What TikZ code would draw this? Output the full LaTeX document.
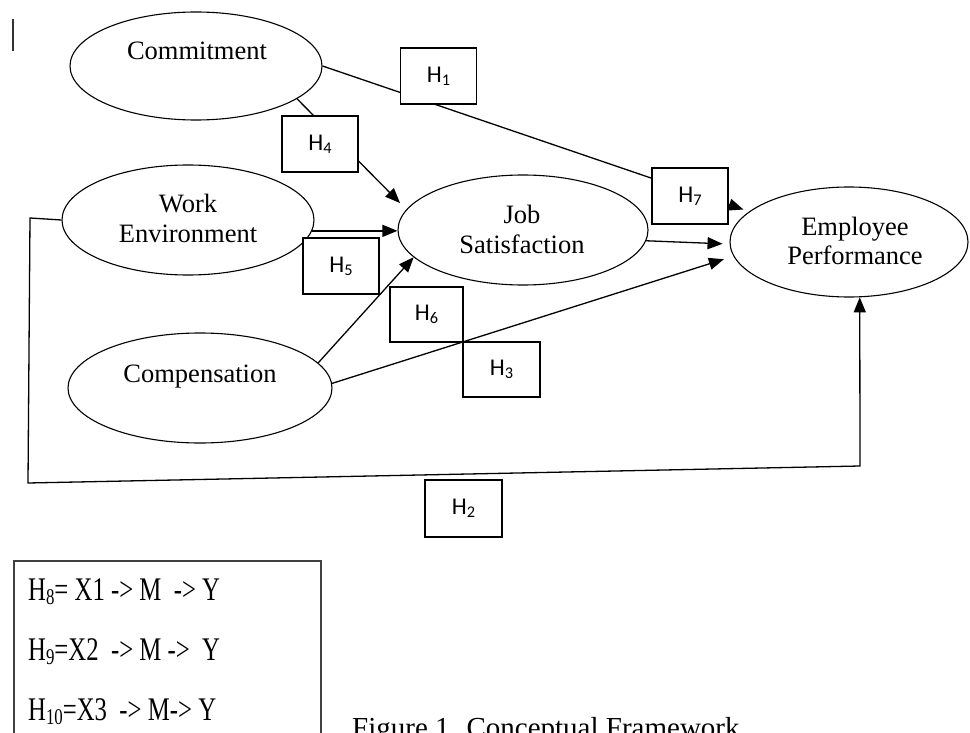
\documentclass[tikz,border=0pt]{standalone}
\usepackage{graphicx}
\usepackage{fontspec}
\setmainfont{Liberation Serif}
\newfontfamily\hfont{Carlito}
\newfontfamily\legfont[FakeStretch=0.75]{Liberation Serif}
\usetikzlibrary{shapes.geometric,arrows.meta}
\newcommand\hsub[1]{\raisebox{-0.13em}{\scalebox{0.68}{#1}}}
\begin{document}
\begin{tikzpicture}[x=1pt,y=-1pt,
  ell/.style={ellipse,draw,line width=1.1pt,inner sep=0pt},
  lbl/.style={font=\fontsize{26.5}{30}\selectfont,anchor=base,inner sep=0pt},
  hbox/.style={draw,fill=white,line width=1.2pt,minimum width=76pt,minimum height=56pt,inner sep=0pt,font=\hfont\fontsize{24}{28}\selectfont},
  conn/.style={line width=1.3pt},
  arr/.style={conn,-{Triangle[length=15pt,width=12pt]}},
  legtxt/.style={anchor=base west,inner sep=0pt,font=\legfont\fontsize{33}{36}\selectfont},
]
\useasboundingbox (0,0) rectangle (970,733);
\clip (0,0) rectangle (970,733);

% cursor bar
\draw[line width=2pt,black!80] (13,19) -- (13,51);

% ellipses
\node[ell,minimum width=252pt,minimum height=108pt] (com) at (196,66) {};
\node[ell,minimum width=252pt,minimum height=110pt] (we) at (188,220) {};
\node[ell,minimum width=250pt,minimum height=110pt] (js) at (523,230) {};
\node[ell,minimum width=238pt,minimum height=110pt] (ep) at (849,242) {};
\node[ell,minimum width=264pt,minimum height=110pt] (comp) at (200,388) {};

\node[lbl] (comT) at (197,60) {Commitment};
\node[lbl] (weT1) at (188,213) {Work};
\node[lbl] (weT2) at (188,243) {Environment};
\node[lbl] (jsT1) at (522,223) {Job};
\node[lbl] (jsT2) at (522,253) {Satisfaction};
\node[lbl] (epT1) at (855,236) {Employee};
\node[lbl] (epT2) at (855,265) {Performance};
\node[lbl] (compT) at (200,382) {Compensation};

% connectors
\draw[arr,shorten >=6pt] (com.east) -- (ep.163);
\draw[arr,shorten >=9pt] (com.-18) -- (js.170);
\draw[arr] (we.-5) -- (we.-5 -| js.west);
\draw[arr] (comp.12) -- (js.194);
\draw[arr,shorten >=10pt] (comp.2) -- (ep.187);
\draw[arr,shorten >=7pt] (js.-5) -- (ep.181);
\coordinate (c1) at (30,218);
\coordinate (c2) at (28,483);
\coordinate (c3) at (860,466);
\draw[arr] (we.west) -- (c1) -- (c2) -- (c3) -- (ep.-79);

% hypothesis boxes
\node[hbox] (h1) at (438.5,76) {H\hsub{1}};
\node[hbox] (h4) at (320,144) {H\hsub{4}};
\node[hbox] (h5) at (341,266) {H\hsub{5}};
\node[hbox] (h7) at (690,196) {H\hsub{7}};
\node[hbox,minimum width=73pt,minimum height=55pt] (h6) at (426.5,314.5) {H\hsub{6}};
\node[hbox,minimum width=77pt,minimum height=55pt] (h3) at (501.5,369.5) {H\hsub{3}};
\node[hbox,minimum width=77pt,minimum height=57pt] (h2) at (463.5,508.5) {H\hsub{2}};

% legend
\node[draw=black!75,line width=1.8pt,minimum width=307pt,minimum height=200pt,anchor=north west,inner sep=0pt] (leg) at (13,560) {};
\node[legtxt] (l8) at (28,600) {H\hsub{8}= X1 -> M~ -> Y};
\node[legtxt] (l9) at (28,660) {H\hsub{9}=X2~ -> M ->~ Y};
\node[legtxt] (l10) at (28,720) {H\hsub{10}=X3~ -> M-> Y};

% caption
\node[anchor=base west,inner sep=0pt,font=\fontsize{29}{34}\selectfont] (cap) at (352,737) {Figure 1. Conceptual Framework};
\end{tikzpicture}
\end{document}
